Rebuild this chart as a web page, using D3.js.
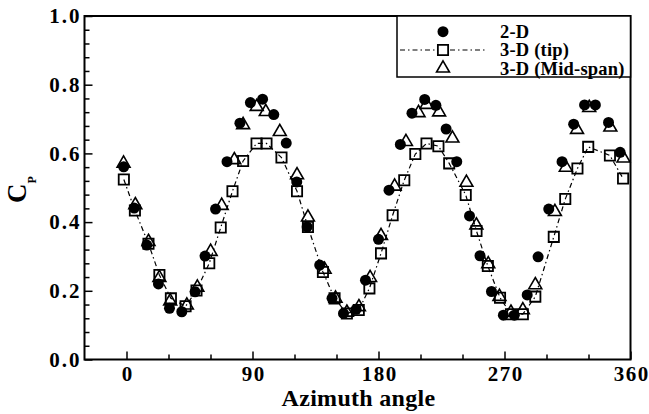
<!DOCTYPE html>
<html>
<head>
<meta charset="utf-8">
<script src="https://cdn.jsdelivr.net/npm/d3@7"></script>
<style>
  html, body { margin: 0; padding: 0; background: #fff; }
  svg { display: block; }
  text { font-family: "Liberation Serif", "Times New Roman", serif; font-weight: bold; fill: #000; }
</style>
</head>
<body>
<svg id="chart" width="649" height="414"></svg>
<script>
// Power coefficient vs. azimuth angle for three simulations

// 2-D simulation (filled circles)
const angle2D = [-2, 5.5, 14.5, 22.8, 30.7, 39.5, 49, 56.1, 63.6, 71.8, 81, 88.5, 97.2, 105.2, 114.1,
  121.6, 129, 138, 146.8, 155, 164, 170.7, 180, 187.5, 195.6, 203.9, 213, 221, 228.3, 235.9,
  245, 252.5, 260.7, 269.2, 277, 286.2, 294, 301.6, 311.1, 319.4, 327.2, 334.9, 344.3, 352.6];
const cp2D = [0.561, 0.441, 0.333, 0.220, 0.149, 0.139, 0.197, 0.301, 0.438, 0.576, 0.688, 0.748, 0.758, 0.713, 0.630,
  0.517, 0.386, 0.275, 0.178, 0.134, 0.146, 0.231, 0.350, 0.493, 0.626, 0.717, 0.757, 0.740, 0.671, 0.576,
  0.418, 0.302, 0.198, 0.129, 0.129, 0.188, 0.299, 0.438, 0.576, 0.685, 0.741, 0.741, 0.690, 0.603];

// 3-D simulation, blade tip section (open squares, dash-dot line)
const angleTip = [-1.9, 6, 15.7, 23.5, 31.7, 42.2, 50, 59.1, 67.3, 75.7, 83.3, 92.9, 100, 110.7, 121.8,
  129.6, 140.3, 148.6, 157.4, 165.9, 173.5, 181.8, 190.1, 198.4, 206.3, 214.3, 222.8, 230.5, 242.3, 250,
  258.1, 266.8, 274.6, 283.1, 292, 305.2, 313.4, 322.1, 329.8, 345.3, 354.7];
const cpTip = [0.524, 0.434, 0.337, 0.246, 0.178, 0.155, 0.201, 0.280, 0.384, 0.490, 0.578, 0.629, 0.629, 0.588, 0.490,
  0.386, 0.255, 0.178, 0.134, 0.144, 0.207, 0.309, 0.420, 0.522, 0.598, 0.629, 0.621, 0.571, 0.479, 0.374,
  0.272, 0.180, 0.132, 0.132, 0.183, 0.357, 0.467, 0.556, 0.619, 0.594, 0.527];

// 3-D simulation, mid-span section (open triangles)
const angleMid = [-2.1, 6.3, 15.7, 23.5, 31.2, 43.1, 50.6, 60.1, 68, 77, 83.3, 93, 99.5, 109.5, 121.8,
  129.6, 141.5, 149.3, 157.4, 166, 174, 181.8, 191.5, 199.6, 208.6, 214.3, 223.3, 232.8, 242.8, 249.9,
  258.4, 266.4, 274.6, 283.1, 292, 306, 313.8, 321.8, 330.5, 345.6, 355];
const cpMid = [0.571, 0.450, 0.343, 0.238, 0.170, 0.158, 0.210, 0.314, 0.448, 0.581, 0.683, 0.736, 0.721, 0.663, 0.537,
  0.414, 0.262, 0.178, 0.137, 0.153, 0.238, 0.360, 0.504, 0.634, 0.718, 0.742, 0.720, 0.644, 0.515, 0.391,
  0.278, 0.183, 0.137, 0.144, 0.217, 0.430, 0.559, 0.669, 0.733, 0.676, 0.586];

const seriesNames = ["2-D", "3-D (tip)", "3-D (Mid-span)"];
const xMajorTicks = [0, 90, 180, 270, 360];
const xMinorTicks = [30, 60, 120, 150, 210, 240, 300, 330];
const yMajorTicks = [0, 0.2, 0.4, 0.6, 0.8, 1.0];
const yMinorTicks = d3.range(0, 1.0001, 0.04).filter(v => Math.abs(v * 5 - Math.round(v * 5)) > 1e-6);

const svg = d3.select("#chart");
const plotLeft = 84.5, plotRight = 630.5, plotTop = 16, plotBottom = 359.5;

const x = d3.scaleLinear().domain([-30, 360]).range([plotLeft, plotRight]);
const y = d3.scaleLinear().domain([0, 1]).range([plotBottom, plotTop]);

const tickFont = 21;

// x axis: inward ticks
const gxMinor = svg.append("g").attr("transform", `translate(0,${plotBottom})`)
  .call(d3.axisBottom(x).tickValues(xMinorTicks).tickSize(-5).tickFormat(""));
const gx = svg.append("g").attr("transform", `translate(0,${plotBottom})`)
  .call(d3.axisBottom(x).tickValues(xMajorTicks).tickSize(-8).tickPadding(7).tickFormat(d3.format("d")));

// y axis: inward ticks
const gyMinor = svg.append("g").attr("transform", `translate(${plotLeft},0)`)
  .call(d3.axisLeft(y).tickValues(yMinorTicks).tickSize(-5).tickFormat(""));
const gy = svg.append("g").attr("transform", `translate(${plotLeft},0)`)
  .call(d3.axisLeft(y).tickValues(yMajorTicks).tickSize(-8).tickPadding(3).tickFormat(d3.format(".1f")));

[gxMinor, gx, gyMinor, gy].forEach(g => {
  g.select(".domain").remove();
  g.selectAll(".tick line").attr("stroke", "#000").attr("stroke-width", 1.5);
  g.selectAll("text").style("font-size", tickFont + "px");
});
gy.selectAll("text").style("letter-spacing", "2px");
gx.selectAll("text").style("letter-spacing", "1.5px").attr("dx", "0.75px");

// frame
svg.append("rect")
  .attr("x", plotLeft).attr("y", plotTop)
  .attr("width", plotRight - plotLeft).attr("height", plotBottom - plotTop)
  .attr("fill", "none").attr("stroke", "#000").attr("stroke-width", 2);

// axis titles
svg.append("text")
  .attr("x", (plotLeft + plotRight) / 2 + 1).attr("y", 406)
  .attr("text-anchor", "middle")
  .style("font-size", "24px")
  .style("letter-spacing", "0.3px")
  .text("Azimuth angle");

const yTitle = svg.append("text")
  .attr("transform", "translate(26,203) rotate(-90)");
yTitle.append("tspan").style("font-size", "27px").text("C");
yTitle.append("tspan").style("font-size", "12px").attr("dy", 10).text("P");

// series marks
const tipData = angleTip.map((a, i) => [a, cpTip[i]]);
const midData = angleMid.map((a, i) => [a, cpMid[i]]);
const d2Data = angle2D.map((a, i) => [a, cp2D[i]]);

const dashDot = "5,3,1.5,3";

svg.append("path")
  .datum(tipData)
  .attr("fill", "none").attr("stroke", "#000").attr("stroke-width", 1.2)
  .attr("stroke-dasharray", dashDot)
  .attr("d", d3.line().x(d => x(d[0])).y(d => y(d[1])));

const squareSym = d3.symbol(d3.symbolSquare, 105);
const circleSym = d3.symbol(d3.symbolCircle, 95);
const triSym = d3.symbol(d3.symbolTriangle, 72);

svg.append("g").selectAll("path").data(tipData).join("path")
  .attr("transform", d => `translate(${x(d[0])},${y(d[1])})`)
  .attr("d", squareSym)
  .attr("fill", "none").attr("stroke", "#000").attr("stroke-width", 1.8);

svg.append("g").selectAll("path").data(d2Data).join("path")
  .attr("transform", d => `translate(${x(d[0])},${y(d[1])})`)
  .attr("d", circleSym)
  .attr("fill", "#000");

svg.append("g").selectAll("path").data(midData).join("path")
  .attr("transform", d => `translate(${x(d[0])},${y(d[1])})`)
  .attr("d", triSym)
  .attr("fill", "none").attr("stroke", "#000").attr("stroke-width", 1.6);

// legend
const lg = svg.append("g");
lg.append("rect")
  .attr("x", 397).attr("y", plotTop).attr("width", plotRight - 397).attr("height", 61)
  .attr("fill", "#fff").attr("stroke", "#000").attr("stroke-width", 1.5);

const rowY = [31.7, 50, 68.3];
const symX = 443;
lg.append("path").attr("transform", `translate(${symX},${rowY[0]})`).attr("d", circleSym).attr("fill", "#000");
lg.append("line").attr("x1", 400).attr("x2", 486).attr("y1", rowY[1]).attr("y2", rowY[1])
  .attr("stroke", "#000").attr("stroke-width", 1.2).attr("stroke-dasharray", dashDot);
lg.append("path").attr("transform", `translate(${symX},${rowY[1]})`).attr("d", squareSym)
  .attr("fill", "#fff").attr("stroke", "#000").attr("stroke-width", 1.8);
lg.append("path").attr("transform", `translate(${symX},${rowY[2]})`).attr("d", triSym)
  .attr("fill", "none").attr("stroke", "#000").attr("stroke-width", 1.6);

lg.selectAll("text.lab").data(seriesNames).join("text")
  .attr("class", "lab")
  .attr("x", 500).attr("y", (d, i) => rowY[i]).attr("dy", "0.35em")
  .style("font-size", "18.5px")
  .style("letter-spacing", "0.2px")
  .text(d => d);
</script>
</body>
</html>
